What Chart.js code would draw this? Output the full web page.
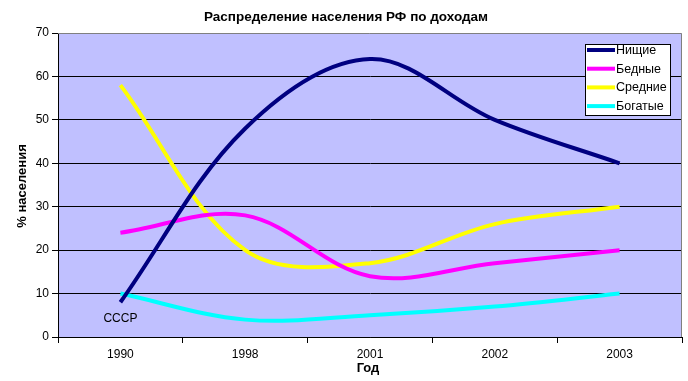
<!DOCTYPE html>
<html>
<head>
<meta charset="utf-8">
<script src="https://cdn.jsdelivr.net/npm/chart.js@4"></script>
<style>
html,body{margin:0;padding:0;background:#fff;}
canvas{display:block;}
</style>
</head>
<body>
<canvas id="c" width="688" height="381"></canvas>
<script>
const categories = ['1990', '1998', '2001', '2002', '2003'];
const poor = [8, 48, 64, 50, 40];        // Нищие
const lowIncome = [24, 28, 14, 17, 20];  // Бедные
const middle = [58, 20, 17, 26, 30];     // Средние
const rich = [10, 4, 5, 7, 10];          // Богатые
const yTicks = [0, 10, 20, 30, 40, 50, 60, 70];
const seriesNames = ['Нищие', 'Бедные', 'Средние', 'Богатые'];
const seriesColors = ['#000080', '#FF00FF', '#FFFF00', '#00FFFF'];
const titleText = 'Распределение населения РФ по доходам';
const yTitle = '% населения';
const xTitle = 'Год';
const note = 'СССР';

const FONT = '"Liberation Sans", Arial, sans-serif';

const decor = {
  id: 'decor',
  beforeDraw(chart) {
    const {ctx, chartArea: a} = chart;
    ctx.save();
    ctx.fillStyle = '#C0C0FF';
    ctx.fillRect(a.left, a.top, a.right - a.left, a.bottom - a.top);
    ctx.restore();
  },
  afterDatasetsDraw(chart) {
    const {ctx, chartArea: a} = chart;
    ctx.save();
    ctx.strokeStyle = '#808080';
    ctx.lineWidth = 1;
    ctx.beginPath();
    ctx.moveTo(a.left, a.top + 0.5);
    ctx.lineTo(a.right - 0.5, a.top + 0.5);
    ctx.lineTo(a.right - 0.5, a.bottom);
    ctx.stroke();
    ctx.fillStyle = '#000';
    ctx.font = 'bold 13.5px ' + FONT;
    ctx.textAlign = 'center';
    ctx.textBaseline = 'middle';
    ctx.fillText(titleText, 346, 17);
    ctx.font = 'bold 13px ' + FONT;
    ctx.fillText(xTitle, 368, 368);
    ctx.save();
    ctx.translate(22, 186);
    ctx.rotate(-Math.PI / 2);
    ctx.fillText(yTitle, 0, 0);
    ctx.restore();
    const xs = chart.scales.x, ys = chart.scales.y;
    ctx.font = '12px ' + FONT;
    ctx.textAlign = 'center';
    ctx.fillText(note, xs.getPixelForValue(0), ys.getPixelForValue(4.3));
    const lx = 585, ly = 44, lw = 85, lh = 71;
    ctx.fillStyle = '#fff';
    ctx.fillRect(lx, ly, lw, lh);
    ctx.strokeStyle = '#000';
    ctx.strokeRect(lx + 0.5, ly + 0.5, lw, lh);
    ctx.font = '12.5px ' + FONT;
    ctx.textAlign = 'left';
    chart.data.datasets.forEach((ds, i) => {
      const y = ly + 6 + i * 18.7;
      ctx.strokeStyle = ds.borderColor;
      ctx.lineWidth = 4;
      ctx.beginPath();
      ctx.moveTo(587, y);
      ctx.lineTo(615, y);
      ctx.stroke();
      ctx.fillStyle = '#000';
      ctx.fillText(ds.label, 616, y + 0.5);
    });
    ctx.restore();
  }
};

const datasets = [poor, lowIncome, middle, rich].map((d, i) => ({
  label: seriesNames[i],
  data: d,
  borderColor: seriesColors[i],
  backgroundColor: seriesColors[i],
  borderWidth: 4,
  pointRadius: 0,
  tension: 0.35,
  fill: false
}));

new Chart(document.getElementById('c'), {
  type: 'line',
  data: {labels: categories, datasets},
  options: {
    responsive: false,
    animation: false,
    layout: {padding: {top: 33, right: 6, left: 0, bottom: 0}},
    plugins: {legend: {display: false}, title: {display: false}, tooltip: {enabled: false}},
    scales: {
      x: {
        type: 'category',
        offset: true,
        afterFit(s) { s.height = 44; },
        grid: {offset: true, drawOnChartArea: false, drawTicks: true, tickLength: 6, color: '#000'},
        border: {color: '#000', width: 1},
        ticks: {color: '#000', font: {family: FONT, size: 12}, padding: 4, maxRotation: 0, autoSkip: false}
      },
      y: {
        min: 0, max: 70,
        afterFit(s) { s.width = 58; },
        afterBuildTicks(s) { s.ticks = yTicks.map(v => ({value: v})); },
        grid: {
          color: ctx => (ctx.tick && ctx.tick.value === 70) ? 'rgba(0,0,0,0)' : '#000',
          tickColor: '#000',
          tickLength: 6,
          lineWidth: 1
        },
        border: {color: '#000', width: 1},
        ticks: {color: '#000', font: {family: FONT, size: 12}, padding: 3}
      }
    }
  },
  plugins: [decor]
});
</script>
</body>
</html>
